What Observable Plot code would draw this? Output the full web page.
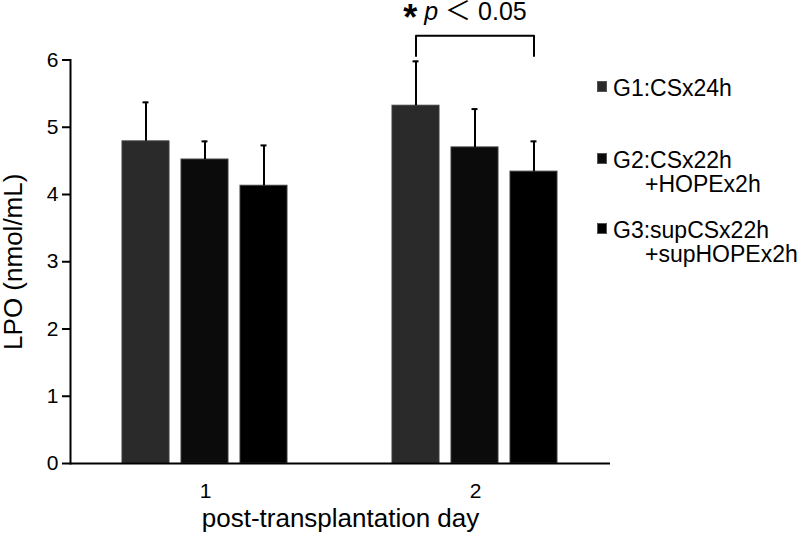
<!DOCTYPE html>
<html>
<head>
<meta charset="utf-8">
<script src="https://cdn.jsdelivr.net/npm/d3@7"></script>
<script src="https://cdn.jsdelivr.net/npm/@observablehq/plot@0.6"></script>
<style>
  body { margin: 0; background: #fff; }
  #wrap { position: relative; width: 800px; height: 539px; font-family: "Liberation Sans", Arial, sans-serif; background: #fff; }
  #wrap svg { position: absolute; left: 0; top: 0; }
  .leg { position: absolute; left: 597px; font-size: 23px; line-height: 24px; color: #000; white-space: nowrap; }
  .leg .sw { position: absolute; left: 0; top: 5px; width: 10px; height: 11px; box-sizing: border-box; border: 1px solid #555; }
  .leg .ln { padding-left: 16px; }
  .leg .ln2 { padding-left: 48px; }
  .row0 { top: 76px; }
  .row1 { top: 148px; }
  .row2 { top: 218px; }
  g[aria-label="y-axis label"] text { font-size: 26px; }
  g[aria-label="fx-axis label"] text { font-size: 26px; }
  g[aria-label="y-axis tick label"] text, g[aria-label="fx-axis tick label"] text { font-size: 21px; }
</style>
</head>
<body>
<div id="wrap"></div>
<script>
// ---- data ----
const days = ["1", "2"];
const groups = ["G1", "G2", "G3"];
const groupColors = ["#2a2a2a", "#0b0b0b", "#000000"];
const legendLines = [["G1:CSx24h"], ["G2:CSx22h", "+HOPEx2h"], ["G3:supCSx22h", "+supHOPEx2h"]];
const meanG1 = [4.79, 5.32];
const meanG2 = [4.52, 4.70];
const meanG3 = [4.13, 4.34];
const sdG1 = [0.58, 0.66];
const sdG2 = [0.27, 0.57];
const sdG3 = [0.60, 0.45];
const yTicks = [0, 1, 2, 3, 4, 5, 6];
const yLabel = "LPO (nmol/mL)";
const xLabel = "post-transplantation day";
const sigDay = "2";
const sigFrom = "G1";
const sigMid = "G2";
const sigTo = "G3";
const bracketLow = 6.06;
const bracketHigh = 6.36;
const sigTextY = 6.71;
const sigParts = ["*", " p ", "＜", " 0.05"];

// ---- tables ----
const means = [meanG1, meanG2, meanG3];
const sds = [sdG1, sdG2, sdG3];
const rows = [];
days.forEach((d, di) => groups.forEach((g, gi) => {
  rows.push({day: d, group: g, mean: means[gi][di], top: means[gi][di] + sds[gi][di]});
}));
const bracket = [
  {day: sigDay, group: sigFrom, y: bracketLow},
  {day: sigDay, group: sigFrom, y: bracketHigh},
  {day: sigDay, group: sigTo, y: bracketHigh},
  {day: sigDay, group: sigTo, y: bracketLow}
];
const sigRows = [{day: sigDay, group: sigMid, y: sigTextY, label: sigParts.join("")}];

const chart = Plot.plot({
  width: 800,
  height: 539,
  marginLeft: 70,
  marginRight: 190,
  marginTop: 59.5,
  marginBottom: 76,
  style: {fontFamily: "Liberation Sans, Arial, sans-serif", fontSize: "20px", color: "#000", background: "transparent", overflow: "visible"},
  fx: {domain: days, padding: 0},
  x: {domain: groups, paddingInner: 0.2, paddingOuter: 0.861, axis: null},
  y: {domain: [0, 6], axis: null},
  color: {domain: groups, range: groupColors},
  marks: [
    Plot.barY(rows, {fx: "day", x: "group", y: "mean", fill: "group", stroke: "#3c3c3c", strokeWidth: 1}),
    Plot.ruleX(rows, {fx: "day", x: "group", y1: "mean", y2: "top", stroke: "#000", strokeWidth: 2}),
    Plot.tickY(rows, {fx: "day", x: "group", y: "top", insetLeft: 20.5, insetRight: 20.5, stroke: "#000", strokeWidth: 2}),
    Plot.ruleY([0], {stroke: "#000", strokeWidth: 2}),
    Plot.frame({anchor: "left", facetAnchor: "left", stroke: "#000", strokeWidth: 2}),
    Plot.axisY({ticks: yTicks, tickFormat: d => String(d), fontSize: 21, tickSize: 8, tickPadding: 4, strokeWidth: 2, label: yLabel, labelAnchor: "center", labelOffset: 67, labelArrow: "none"}),
    Plot.axisFx({anchor: "bottom", fontSize: 21, tickSize: 0, tickPadding: 20, label: xLabel, labelAnchor: "center", labelOffset: 63, labelArrow: "none"}),
    Plot.line(bracket, {fx: "day", x: "group", y: "y", stroke: "#000", strokeWidth: 2}),
    Plot.text(sigRows, {fx: "day", x: "group", y: "y", text: "label", dx: -10, fontSize: 25})
  ]
});

document.getElementById("wrap").appendChild(chart);

// rich formatting of the significance label
d3.select(chart).selectAll('g[aria-label="text"] text').each(function() {
  const t = d3.select(this);
  t.text(null);
  t.append("tspan").attr("font-weight", "bold").attr("font-size", 36).attr("dy", 10).text(sigParts[0]);
  t.append("tspan").attr("font-style", "italic").attr("dy", -10).text(sigParts[1]);
  t.append("tspan").attr("font-family", "Noto Sans CJK JP").attr("font-size", 26).text(sigParts[2]);
  t.append("tspan").text(sigParts[3]);
});

// legend
const wrap = document.getElementById("wrap");
legendLines.forEach((lines, i) => {
  const item = document.createElement("div");
  item.className = "leg row" + i;
  const sw = document.createElement("span");
  sw.className = "sw";
  sw.style.background = groupColors[i];
  item.appendChild(sw);
  lines.forEach((txt, j) => {
    const ln = document.createElement("div");
    ln.className = j === 0 ? "ln" : "ln2";
    ln.textContent = txt;
    item.appendChild(ln);
  });
  wrap.appendChild(item);
});
</script>
</body>
</html>
